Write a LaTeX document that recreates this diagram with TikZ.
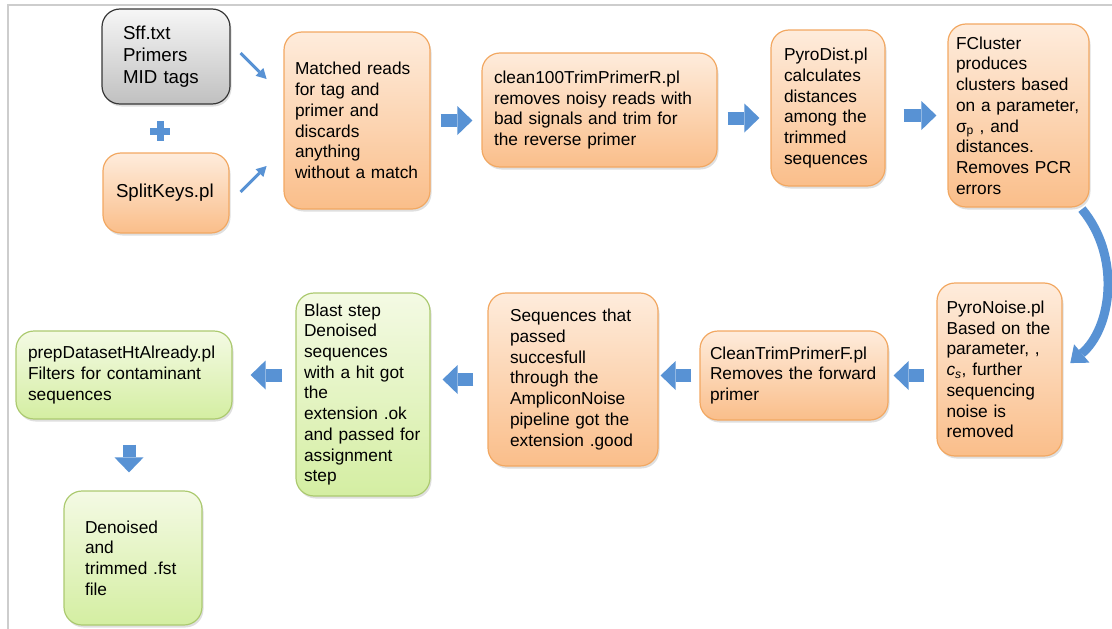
\documentclass[tikz,border=0pt]{standalone}
\usepackage{fontspec}
\setmainfont{Liberation Sans}
\usetikzlibrary{arrows.meta,shadows}

\definecolor{peachtop}{RGB}{254,236,220}
\definecolor{peachbot}{RGB}{250,190,138}
\definecolor{peachline}{RGB}{242,168,98}
\definecolor{limetop}{RGB}{244,250,228}
\definecolor{limebot}{RGB}{212,238,162}
\definecolor{limeline}{RGB}{172,202,112}
\definecolor{greytop}{RGB}{246,246,246}
\definecolor{greybot}{RGB}{192,192,192}
\definecolor{greyline}{RGB}{55,55,55}
\definecolor{flowblue}{RGB}{88,146,212}
\definecolor{framegrey}{RGB}{205,205,205}

\tikzset{
  box/.style={rounded corners=18pt, line width=1.2pt, align=left, inner sep=0pt,
    font=\fontsize{17.3}{20.7}\selectfont,
    drop shadow={shadow xshift=1.5pt, shadow yshift=-2.5pt, opacity=0.25}},
  stage/.style={box, draw=peachline, top color=peachtop, bottom color=peachbot},
  check/.style={box, draw=limeline, top color=limetop, bottom color=limebot},
  input/.style={box, draw=greyline, top color=greytop, bottom color=greybot},
  big/.style={font=\fontsize{18.7}{22}\selectfont},
  fat/.style={flowblue, line width=13pt, -{Triangle[width=29pt,length=15pt,line width=0pt]}},
  feed/.style={flowblue, line width=3pt, -{Triangle[width=11pt,length=10pt,line width=0pt]}},
  swoop/.style={flowblue, line width=9pt, -{Triangle[width=24pt,length=15pt,line width=0pt]}}
}

\begin{document}
\begin{tikzpicture}[x=1pt,y=-1pt]
\useasboundingbox (0,0) rectangle (1112,629);
\draw[framegrey, line width=1.5pt] (1112,5) -- (8,5) -- (8,629);

\node (src) [input, big, minimum width=128, minimum height=95, text width=86] at (166,56.5) {Sff.txt\\Primers\\MID tags};
\node (split) [stage, big, minimum width=126, minimum height=80, text width=100] at (166,193) {SplitKeys.pl};
\node (match) [stage, minimum width=146, minimum height=177, text width=124] at (357,120.5) {Matched reads\\for tag and\\primer and\\discards\\anything\\without a match};
\node (clean) [stage, minimum width=235, minimum height=114, text width=211] at (599.5,110) {clean100TrimPrimerR.pl\\removes noisy reads with\\bad signals and trim for\\the reverse primer};
\node (dist) [stage, minimum width=114, minimum height=156, text width=88] at (828,108) {PyroDist.pl\\calculates\\distances\\among the\\trimmed\\sequences};
\node (fcl) [stage, minimum width=141, minimum height=183, text width=125] at (1018.5,115.5) {FCluster\\produces\\clusters based\\on a parameter,\\σ\textsubscript{p} , and\\distances.\\Removes PCR\\errors};
\node (noise) [stage, minimum width=125, minimum height=173, text width=106] at (999.5,369.5) {PyroNoise.pl\\Based on the\\parameter, ,\\\textit{c}\textsubscript{\textit{s}}, further\\sequencing\\noise is\\removed};
\node (ctf) [stage, minimum width=188, minimum height=89, text width=168] at (794,375.5) {CleanTrimPrimerF.pl\\Removes the forward\\primer};
\node (seqs) [stage, minimum width=170, minimum height=173, text width=126] at (573,379.5) {Sequences that\\passed\\succesfull\\through the\\AmpliconNoise\\pipeline got the\\extension .good};
\node (blast) [check, minimum width=134, minimum height=203, text width=118] at (363,394.5) {Blast step\\Denoised\\sequences\\with a hit got\\the\\extension .ok\\and passed for\\assignment\\step};
\node (prep) [check, minimum width=216, minimum height=88, text width=192] at (124,375) {prepDatasetHtAlready.pl\\Filters for contaminant\\sequences};
\node (denoised) [check, minimum width=138, minimum height=134, text width=96] at (133,558) {Denoised\\and\\trimmed .fst\\file};

\draw[flowblue, line width=7pt] (150,131) -- (170,131) (160,121) -- (160,141);
\draw[feed] ([shift={(10,-3.5)}]src.east) -- +(26,26);
\draw[feed] ([shift={(11,-1)}]split.east) -- +(26,-26);

\draw[fat, shorten <=10pt, shorten >=9pt] (match.east) -- (match.east -| clean.west);
\draw[fat, shorten <=10pt, shorten >=11pt] ([shift={(0,8)}]clean.east) -- ([shift={(0,8)}]clean.east -| dist.west);
\draw[fat, shorten <=18pt, shorten >=11pt] (fcl.west -| dist.east) -- (fcl.west);
\draw[swoop, shorten <=2pt, shorten >=10pt] ([shift={(-9,0)}]fcl.south east) .. controls +(41,49) and +(49,-41) .. (noise.east);
\draw[fat, shorten <=12pt, shorten >=5pt] (ctf.east -| noise.west) -- (ctf.east);
\draw[fat, shorten <=8pt, shorten >=2pt] (ctf.west) -- (ctf.west -| seqs.east);
\draw[fat, shorten <=14pt, shorten >=12pt] (seqs.west) -- (seqs.west -| blast.east);
\draw[fat, shorten <=13pt, shorten >=18pt] (blast.west |- prep.east) -- (prep.east);
\draw[fat, shorten <=25pt, shorten >=18pt] ([shift={(5,0)}]prep.south) -- ([shift={(5,0)}]prep.south |- denoised.north);
\end{tikzpicture}
\end{document}
